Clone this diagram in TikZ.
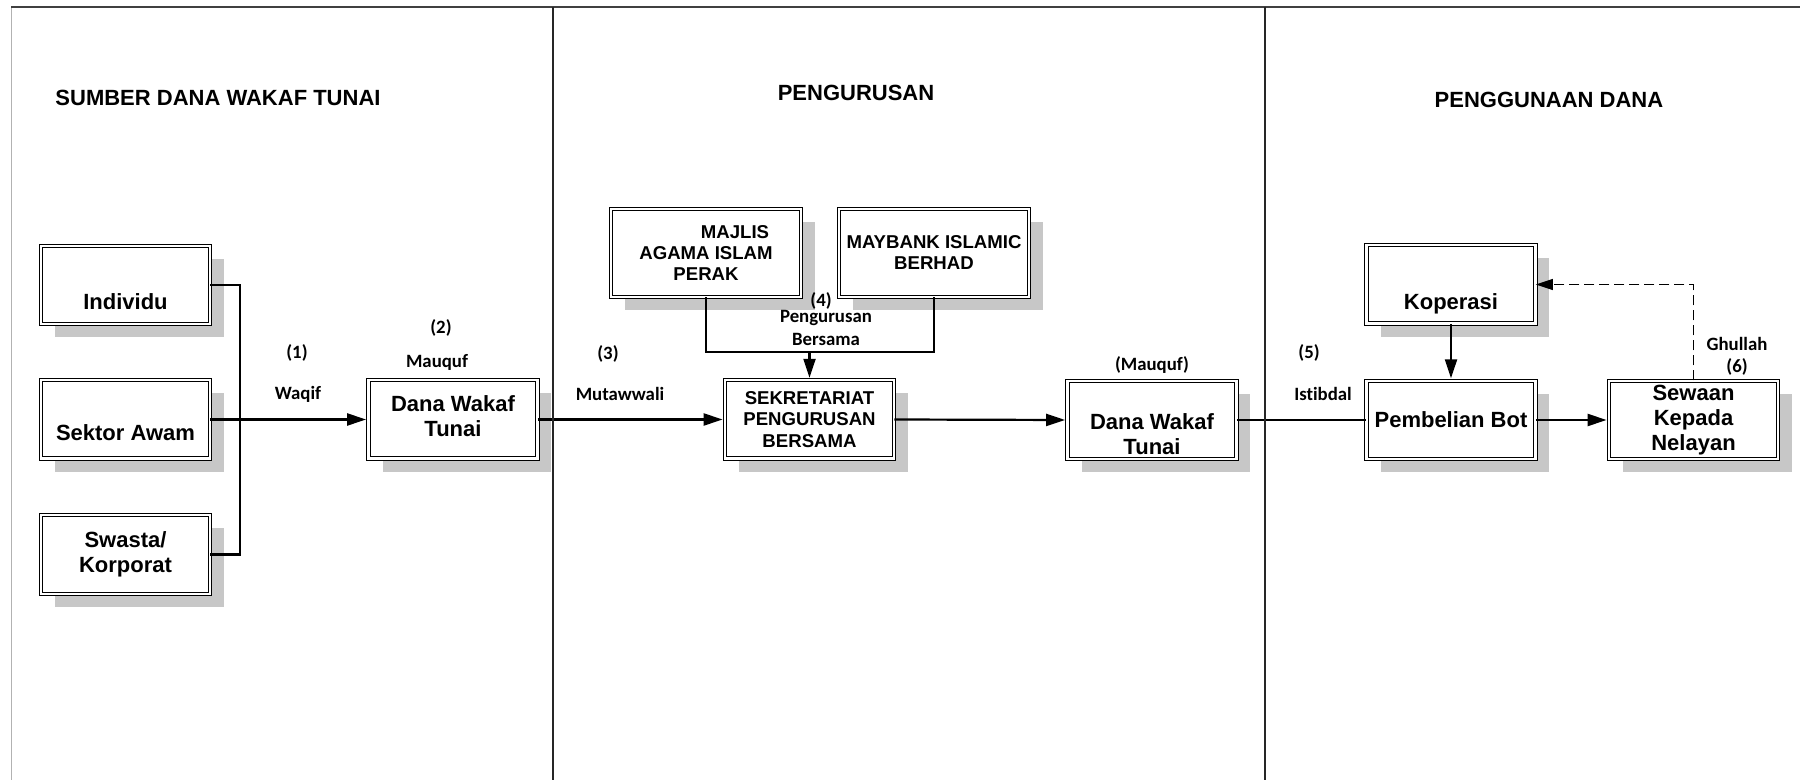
\documentclass[tikz,border=0pt]{standalone}
\usepackage{fontspec}
\setmainfont{Liberation Sans}
\newfontfamily\lblfont[Ligatures=NoCommon]{Carlito}
\usetikzlibrary{arrows.meta,shadows}

\tikzset{
  wbox/.style={draw, double, double distance=1.2pt, line width=0.5pt, fill=white,
    align=center, font=\bfseries\fontsize{11}{12.5}\selectfont,
    minimum width=84.4pt, minimum height=39.2pt, inner sep=1pt,
    drop shadow={shadow xshift=7pt, shadow yshift=-6.5pt, fill=black!22, opacity=1}},
  bigbox/.style={wbox, font=\bfseries\fontsize{9.3}{10.5}\selectfont,
    minimum width=95pt, minimum height=44pt},
  link/.style={line width=1.1pt},
  flow/.style={link, -{Triangle[length=9.5pt,width=6pt]}, shorten >=1pt},
  lbl/.style={font=\lblfont\bfseries\fontsize{9.4}{10}\selectfont, inner sep=0pt},
  head/.style={font=\bfseries\fontsize{11}{13}\selectfont, inner sep=0pt}
}

\begin{document}
\begin{tikzpicture}[x=0.5pt, y=-0.5pt]

    \useasboundingbox (0,0) rectangle (1800,780);

    % Column titles
    \node[head] (t1) at (218,98) {SUMBER DANA WAKAF TUNAI};
    \node[head] (t2) at (856,93) {PENGURUSAN};
    \node[head] (t3) at (1549,100) {PENGGUNAAN DANA};

    % Sources
    \node[wbox, text height=24.5pt] (ind) at (125.5,285) {Individu};
    \node[wbox, text height=21pt] (awam) at (125.5,419.5) {Sektor Awam};
    \node[wbox] (swa) at (125.5,554.5) {Swasta/\\Korporat};
    \node[wbox, text height=17pt] (dana1) at (453,419.5) {Dana Wakaf\\Tunai};

    % Management
    \node[bigbox] (maip) at (706,253) {\hspace*{29pt}MAJLIS\\AGAMA ISLAM\\PERAK};
    \node[bigbox] (mib) at (934,253) {MAYBANK ISLAMIC\\BERHAD};
    \node[wbox, font=\bfseries\fontsize{9.3}{10.9}\selectfont] (sekr) at (809.5,419.5)
        {SEKRETARIAT\\PENGURUSAN\\BERSAMA};
    \node[wbox, text height=34.5pt] (dana2) at (1152,420) {Dana Wakaf\\Tunai};

    % Use of fund
    \node[wbox, text height=27pt] (kop) at (1451,284.5) {Koperasi};
    \node[wbox] (bot) at (1451,420) {Pembelian Bot};
    \node[wbox] (sewa) at (1693.5,420) {Sewaan\\Kepada\\Nelayan};

    % Helper points
    \coordinate (busx) at (240,419.5);
    \coordinate (join) at (809.5,352);

    % Connectors
    \draw[link] (ind.east) -| (busx) |- (swa.east);
    \draw[flow] (awam.east) -- (dana1.west);
    \draw[flow] (dana1.east) -- (sekr.west);
    \draw[link] (maip.south) |- (join) -| (mib.south);
    \draw[flow] (join) -- (sekr.north);
    \draw[flow] (sekr.east) -- (dana2.west);
    \draw[link] (dana2.east) -- (bot.west);
    \draw[flow] (kop.south) -- (bot.north);
    \draw[flow] (bot.east) -- (sewa.west);
    \draw[line width=0.6pt, dash pattern=on 5pt off 2.5pt,
        -{Triangle[length=8.5pt,width=5.5pt]}] (sewa.north) |- (kop.east);

    % Labels
    \node[lbl] (n1) at (297,353) {(1)};
    \node[lbl] (waqif) at (298,394) {Waqif};
    \node[lbl] (n2) at (441,328) {(2)};
    \node[lbl] (mauquf) at (437,362) {Mauquf};
    \node[lbl] (n3) at (608,354) {(3)};
    \node[lbl] (mutaw) at (620,394) {Mutawwali};
    \node[lbl] (n4) at (821,301) {(4)};
    \node[lbl] (peng) at (826,318) {Pengurusan};
    \node[lbl] (bers) at (826,339) {Bersama};
    \node[lbl] (mauq2) at (1152,365) {(Mauquf)};
    \node[lbl] (n5) at (1309,353) {(5)};
    \node[lbl] (istib) at (1323,394) {Istibdal};
    \node[lbl] (ghul) at (1737,344) {Ghullah};
    \node[lbl] (n6) at (1737,367) {(6)};

    % Frame and column dividers
    \draw[black!30, line width=0.5pt] (11,780) -- (11,7);
    \draw[black!75, line width=0.6pt] (11,7) -- (1800,7);
    \draw[black!85, line width=0.8pt] (553,7) -- (553,780);
    \draw[black!85, line width=0.8pt] (1265,7) -- (1265,780);

\end{tikzpicture}
\end{document}
